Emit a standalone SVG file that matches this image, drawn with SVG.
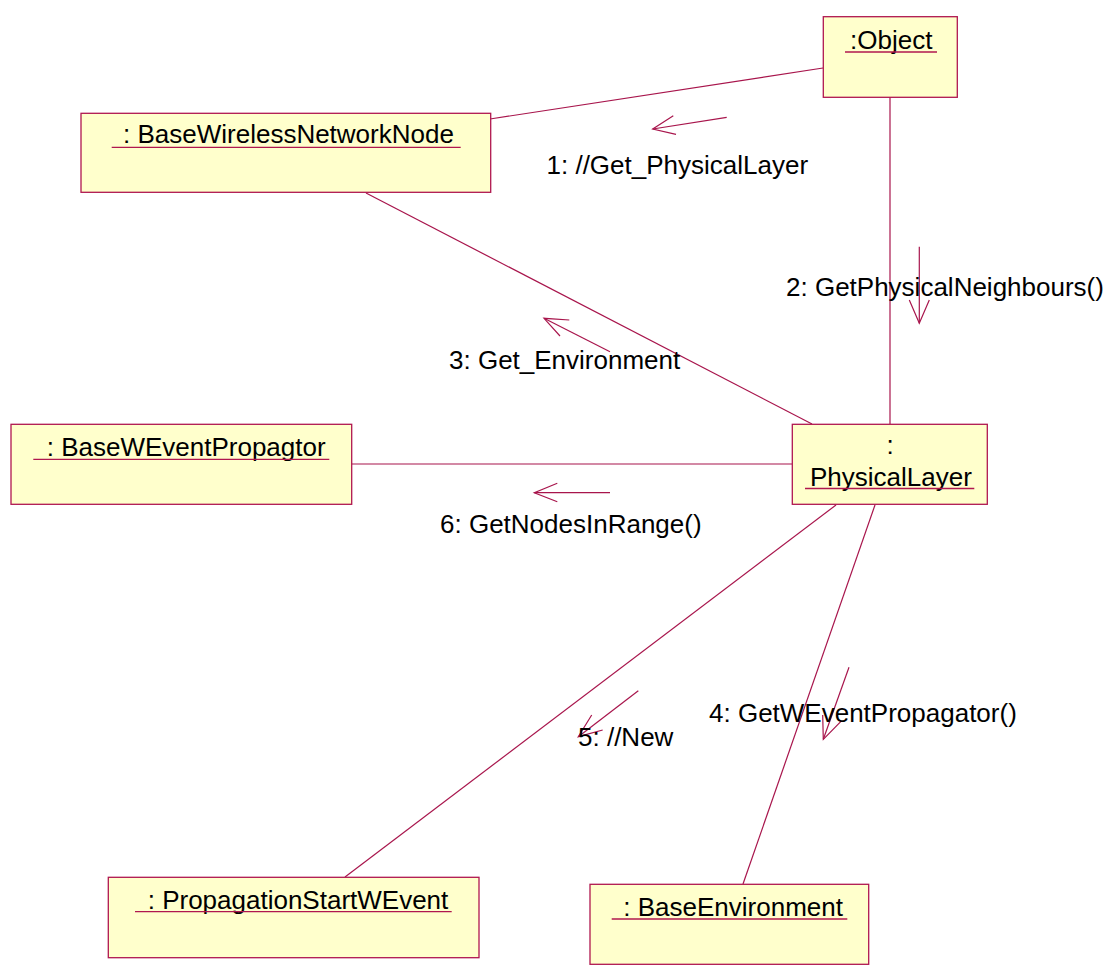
<svg xmlns="http://www.w3.org/2000/svg" width="1118" height="966" viewBox="0 0 1118 966">
  <style>
    .obj { fill: #FFFFCC; stroke: #B0174F; stroke-width: 1.3; }
    .name { font-family: "Liberation Sans", Arial, sans-serif; font-size: 26px; fill: #000; }
    .uline { stroke: #B0174F; stroke-width: 1.3; }
    .link { stroke: #A8154C; stroke-width: 1.2; fill: none; }
    .msg { stroke: #A8154C; stroke-width: 1.2; fill: none; }
    .lbl { font-family: "Liberation Sans", Arial, sans-serif; font-size: 26px; fill: #000; }
  </style>
  <rect width="1118" height="966" fill="#FFFFFF"/>

  <!-- links between objects -->
  <g id="connectors">
    <line class="link" x1="823" y1="68" x2="490" y2="119"/>
    <line class="link" x1="890" y1="97" x2="890" y2="424"/>
    <line class="link" x1="366" y1="193" x2="812" y2="424"/>
    <line class="link" x1="351" y1="464" x2="792" y2="464"/>
    <line class="link" x1="836" y1="505" x2="345" y2="877"/>
    <line class="link" x1="875" y1="505" x2="743" y2="884"/>

    <!-- message arrows -->
    <g id="msg1">
      <line class="msg" x1="726.7" y1="117.3" x2="652.7" y2="129"/>
      <polyline class="msg" points="673.3,115.7 652.7,129 676,134.3"/>
      <text class="lbl" x="546.5" y="173.5">1: //Get_PhysicalLayer</text>
    </g>
    <g id="msg2">
      <line class="msg" x1="919.3" y1="246.7" x2="919.3" y2="323.3"/>
      <polyline class="msg" points="909.3,300 919.3,323.3 929.3,300"/>
      <text class="lbl" x="786" y="296">2: GetPhysicalNeighbours()</text>
    </g>
    <g id="msg3">
      <line class="msg" x1="610" y1="351.7" x2="544" y2="318.3"/>
      <polyline class="msg" points="569.3,320 544,318.3 560,336"/>
      <text class="lbl" x="449" y="369">3: Get_Environment</text>
    </g>
    <g id="msg4">
      <line class="msg" x1="849" y1="667.3" x2="823.3" y2="739.3"/>
      <polyline class="msg" points="822.7,715 823.3,739.3 840.7,721.7"/>
      <text class="lbl" x="709" y="722">4: GetWEventPropagator()</text>
    </g>
    <g id="msg5">
      <line class="msg" x1="638.3" y1="690.7" x2="578.3" y2="736.7"/>
      <polyline class="msg" points="591.7,715 578.3,736.7 602.7,730"/>
      <text class="lbl" x="578" y="745.5">5: //New</text>
    </g>
    <g id="msg6">
      <line class="msg" x1="610" y1="492.7" x2="534.3" y2="492.7"/>
      <polyline class="msg" points="557.3,483.3 534.3,492.7 557.3,501.7"/>
      <text class="lbl" x="440" y="533">6: GetNodesInRange()</text>
    </g>
  </g>

  <!-- objects -->
  <g id="object">
    <rect class="obj" x="823.3" y="16.7" width="134" height="80.6"/>
    <text class="name" x="850" y="49">:Object</text>
    <line class="uline" x1="845" y1="52" x2="937" y2="52"/>
  </g>

  <g id="baseWirelessNetworkNode">
    <rect class="obj" x="81" y="113.3" width="409.7" height="79"/>
    <text class="name" x="123" y="143.3">: BaseWirelessNetworkNode</text>
    <line class="uline" x1="111.7" y1="147.3" x2="460.7" y2="147.3"/>
  </g>

  <g id="physicalLayer">
    <rect class="obj" x="792.3" y="424.3" width="195" height="80"/>
    <text class="name" x="890" y="454" text-anchor="middle">:</text>
    <text class="name" x="810" y="486">PhysicalLayer</text>
    <line class="uline" x1="805" y1="488.5" x2="974.3" y2="488.5"/>
  </g>

  <g id="baseWEventPropagtor">
    <rect class="obj" x="11" y="424.3" width="340.7" height="80"/>
    <text class="name" x="46.7" y="455.7">: BaseWEventPropagtor</text>
    <line class="uline" x1="33.3" y1="459.3" x2="329.3" y2="459.3"/>
  </g>

  <g id="propagationStartWEvent">
    <rect class="obj" x="108.3" y="877.3" width="370.7" height="80.4"/>
    <text class="name" x="147.7" y="909">: PropagationStartWEvent</text>
    <line class="uline" x1="135" y1="911.7" x2="451.7" y2="911.7"/>
  </g>

  <g id="baseEnvironment">
    <rect class="obj" x="590" y="884.3" width="278.7" height="80"/>
    <text class="name" x="623.3" y="915.7">: BaseEnvironment</text>
    <line class="uline" x1="611.7" y1="919" x2="847.3" y2="919"/>
  </g>
</svg>
